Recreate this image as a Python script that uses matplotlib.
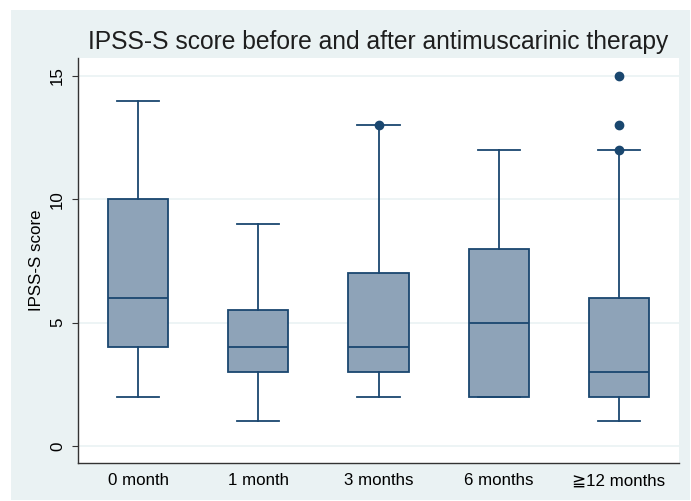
import matplotlib
matplotlib.use("Agg")
import matplotlib.pyplot as plt

plt.rcParams['font.family'] = ['Liberation Sans', 'DejaVu Sans']

categories = ["0 month", "1 month", "3 months", "6 months", "\u226712 months"]
whislo = [2, 1, 2, 2, 1]
q1 = [4, 3, 3, 2, 2]
med = [6, 4, 4, 5, 3]
q3 = [10, 5.5, 7, 8, 6]
whishi = [14, 9, 13, 12, 12]
outliers = [[], [], [13], [], [12, 13, 15]]

navy = "#1A476F"
fill = "#8EA3B8"
bg = "#EAF2F3"

W, H = 691, 501
fig = plt.figure(figsize=(W / 100, H / 100), dpi=100)
fig.patch.set_facecolor("white")
# outer graph region
bgax = fig.add_axes([11/W, 1 - 500/H, (690 - 11)/W, (500 - 10)/H])
bgax.set_facecolor(bg)
bgax.set_xticks([]); bgax.set_yticks([])
for s in bgax.spines.values():
    s.set_visible(False)
bgax.set_zorder(0)

L, R, T, B = 78, 679, 58, 463
ax = fig.add_axes([L/W, 1 - B/H, (R - L)/W, (B - T)/H])
ax.set_zorder(1)
ax.set_facecolor("white")

stats = []
for i in range(len(categories)):
    stats.append(dict(whislo=whislo[i], q1=q1[i], med=med[i], q3=q3[i],
                      whishi=whishi[i], fliers=outliers[i], label=categories[i]))

lw = 1.3
ax.bxp(stats, positions=range(1, 6), widths=0.5, patch_artist=True,
       boxprops=dict(facecolor=fill, edgecolor=navy, linewidth=lw),
       medianprops=dict(color=navy, linewidth=lw),
       whiskerprops=dict(color=navy, linewidth=lw),
       capprops=dict(color=navy, linewidth=lw),
       capwidths=0.35,
       flierprops=dict(marker='o', markerfacecolor=navy, markeredgecolor=navy, markersize=6),
       zorder=3)

ax.set_xlim(0.5, 5.5)
ax.set_ylim(-0.69, 15.73)
ax.set_yticks([0, 5, 10, 15])
ax.set_yticklabels(["0", "5", "10", "15"], rotation=90, va="center")
ax.yaxis.grid(True, color=bg, linewidth=1.2, zorder=0)
ax.set_axisbelow(True)
ax.tick_params(axis='x', length=0, pad=7.5, labelsize=12.2, colors="black")
ax.tick_params(axis='y', length=4.3, labelsize=12.2, color="#333333", pad=5)
for s in ["top", "right"]:
    ax.spines[s].set_visible(False)
for s in ["left", "bottom"]:
    ax.spines[s].set_color("#333333")
    ax.spines[s].set_linewidth(1.0)
ax.set_ylabel("IPSS-S score", fontsize=12.2)
ax.yaxis.set_label_coords((44 - L) / (R - L), 0.5)
fig.text((89 + 668) / 2 / W, 1 - 41.5/H, "IPSS-S score before and after antimuscarinic therapy",
         ha="center", va="center", fontsize=17.7, color="#1e1e1e", zorder=5)

fig.savefig("out.png", dpi=100)
